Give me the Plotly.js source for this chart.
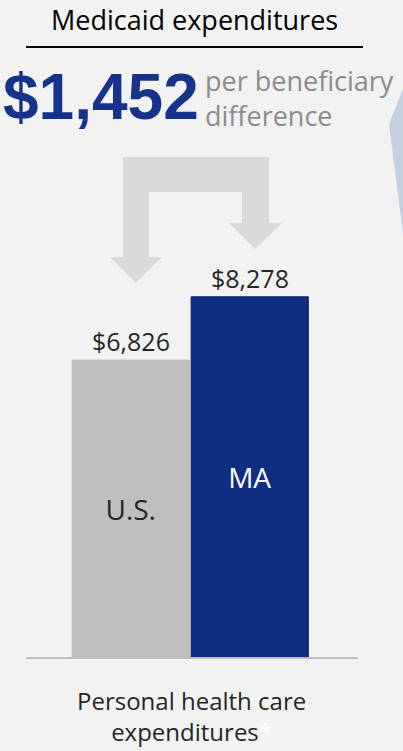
<!DOCTYPE html>
<html>
<head>
<meta charset="utf-8">
<script src="https://cdn.plot.ly/plotly-3.0.1.min.js"></script>
<style>
html,body{margin:0;padding:0;background:#f2f2f2;}
#chart{width:403px;height:751px;}
</style>
</head>
<body>
<div id="chart"></div>
<script>
// ---- data ----
const categories = ["U.S.", "MA"];
const values = [6826, 8278];
const chartTitle = "Medicaid expenditures";
const diffNote = ["per beneficiary", "difference"];
const xLabel = ["Personal health care", "expenditures"];

// ---- layout helpers (pixel -> paper) ----
const W = 403, H = 751;
const M = {l: 26, r: 45, t: 197, b: 94};
const PW = W - M.l - M.r, PH = H - M.t - M.b;
const px = x => (x - M.l) / PW;
const py = y => (H - M.b - y) / PH;
const path = pts => pts.map((p, i) => (i ? "L" : "M") + px(p[0]).toFixed(4) + "," + py(p[1]).toFixed(4)).join(" ") + " Z";

const fmt = v => "$" + v.toLocaleString("en-US");
const diff = values[1] - values[0];

const FONT = "Open Sans, Noto Sans, sans-serif";

const trace = {
  type: "bar",
  x: categories,
  y: values,
  width: 0.985,
  marker: {
    color: ["#bfbfbf", "#0f2e82"],
    line: {color: ["#bfbfbf", "#0b2668"], width: 1}
  },
  text: categories,
  textposition: "inside",
  insidetextanchor: "middle",
  textangle: 0,
  textfont: {family: FONT, size: 28, color: ["#262626", "#ffffff"]},
  hoverinfo: "skip"
};

const annotations = [];
categories.forEach((c, i) => {
  annotations.push({
    x: c, y: values[i], xref: "x", yref: "y",
    text: fmt(values[i]), showarrow: false,
    yanchor: "bottom", yshift: 0,
    font: {family: FONT, size: 25, color: "#262626"}
  });
});
annotations.push({
  xref: "paper", yref: "paper", x: px(194), y: py(20),
  text: chartTitle, showarrow: false, xanchor: "center", yanchor: "middle",
  font: {family: FONT, size: 27, color: "#000000"}
});
annotations.push({
  xref: "paper", yref: "paper", x: px(1), y: py(97),
  text: "<b>" + fmt(diff) + "</b>", showarrow: false, xanchor: "left", yanchor: "middle",
  font: {family: "Liberation Sans, Arial, sans-serif", size: 64, color: "#16338c"}
});
annotations.push({
  xref: "paper", yref: "paper", x: px(203), y: py(98),
  text: diffNote.join("<br>"), showarrow: false, xanchor: "left", yanchor: "middle", align: "left",
  font: {family: FONT, size: 27, color: "#8c8c8c"}
});
annotations.push({
  xref: "paper", yref: "paper", x: px(191), y: py(716),
  text: xLabel[0] + "<br>" + xLabel[1] + "<span style='color:#ffffff'>*</span>",
  showarrow: false, xanchor: "center", yanchor: "middle", align: "center",
  font: {family: FONT, size: 24, color: "#262626"}
});

const shapes = [
  // underline under title
  {type: "line", xref: "paper", yref: "paper", x0: px(26), x1: px(363), y0: py(47), y1: py(47),
   line: {color: "#000000", width: 2}},
  // bent arrow
  {type: "path", xref: "paper", yref: "paper", layer: "below",
   path: path([[123,157],[269,157],[269,223],[282,223],[255,249],[229,223],[242,223],[242,192],
               [149,192],[149,257],[162,257],[136,283],[110,257],[123,257]]),
   fillcolor: "#d9d9d9", line: {width: 0}},
  // decorative shape at right edge
  {type: "path", xref: "paper", yref: "paper", layer: "below",
   path: path([[389,124],[405,84],[405,250]]),
   fillcolor: "#c6d0e3", line: {width: 0}}
];

const layout = {
  width: W, height: H,
  margin: M,
  paper_bgcolor: "#f2f2f2",
  plot_bgcolor: "#f2f2f2",
  showlegend: false,
  bargap: 0,
  xaxis: {
    type: "category",
    range: [-0.88, 1.91],
    showticklabels: false, ticks: "", showgrid: false, zeroline: false,
    showline: true, linecolor: "#bfbfbf", linewidth: 2
  },
  yaxis: {
    range: [0, PH / 0.04351],
    visible: false, showgrid: false, zeroline: false
  },
  annotations: annotations,
  shapes: shapes
};

Plotly.newPlot("chart", [trace], layout, {staticPlot: true, displayModeBar: false});
</script>
</body>
</html>
